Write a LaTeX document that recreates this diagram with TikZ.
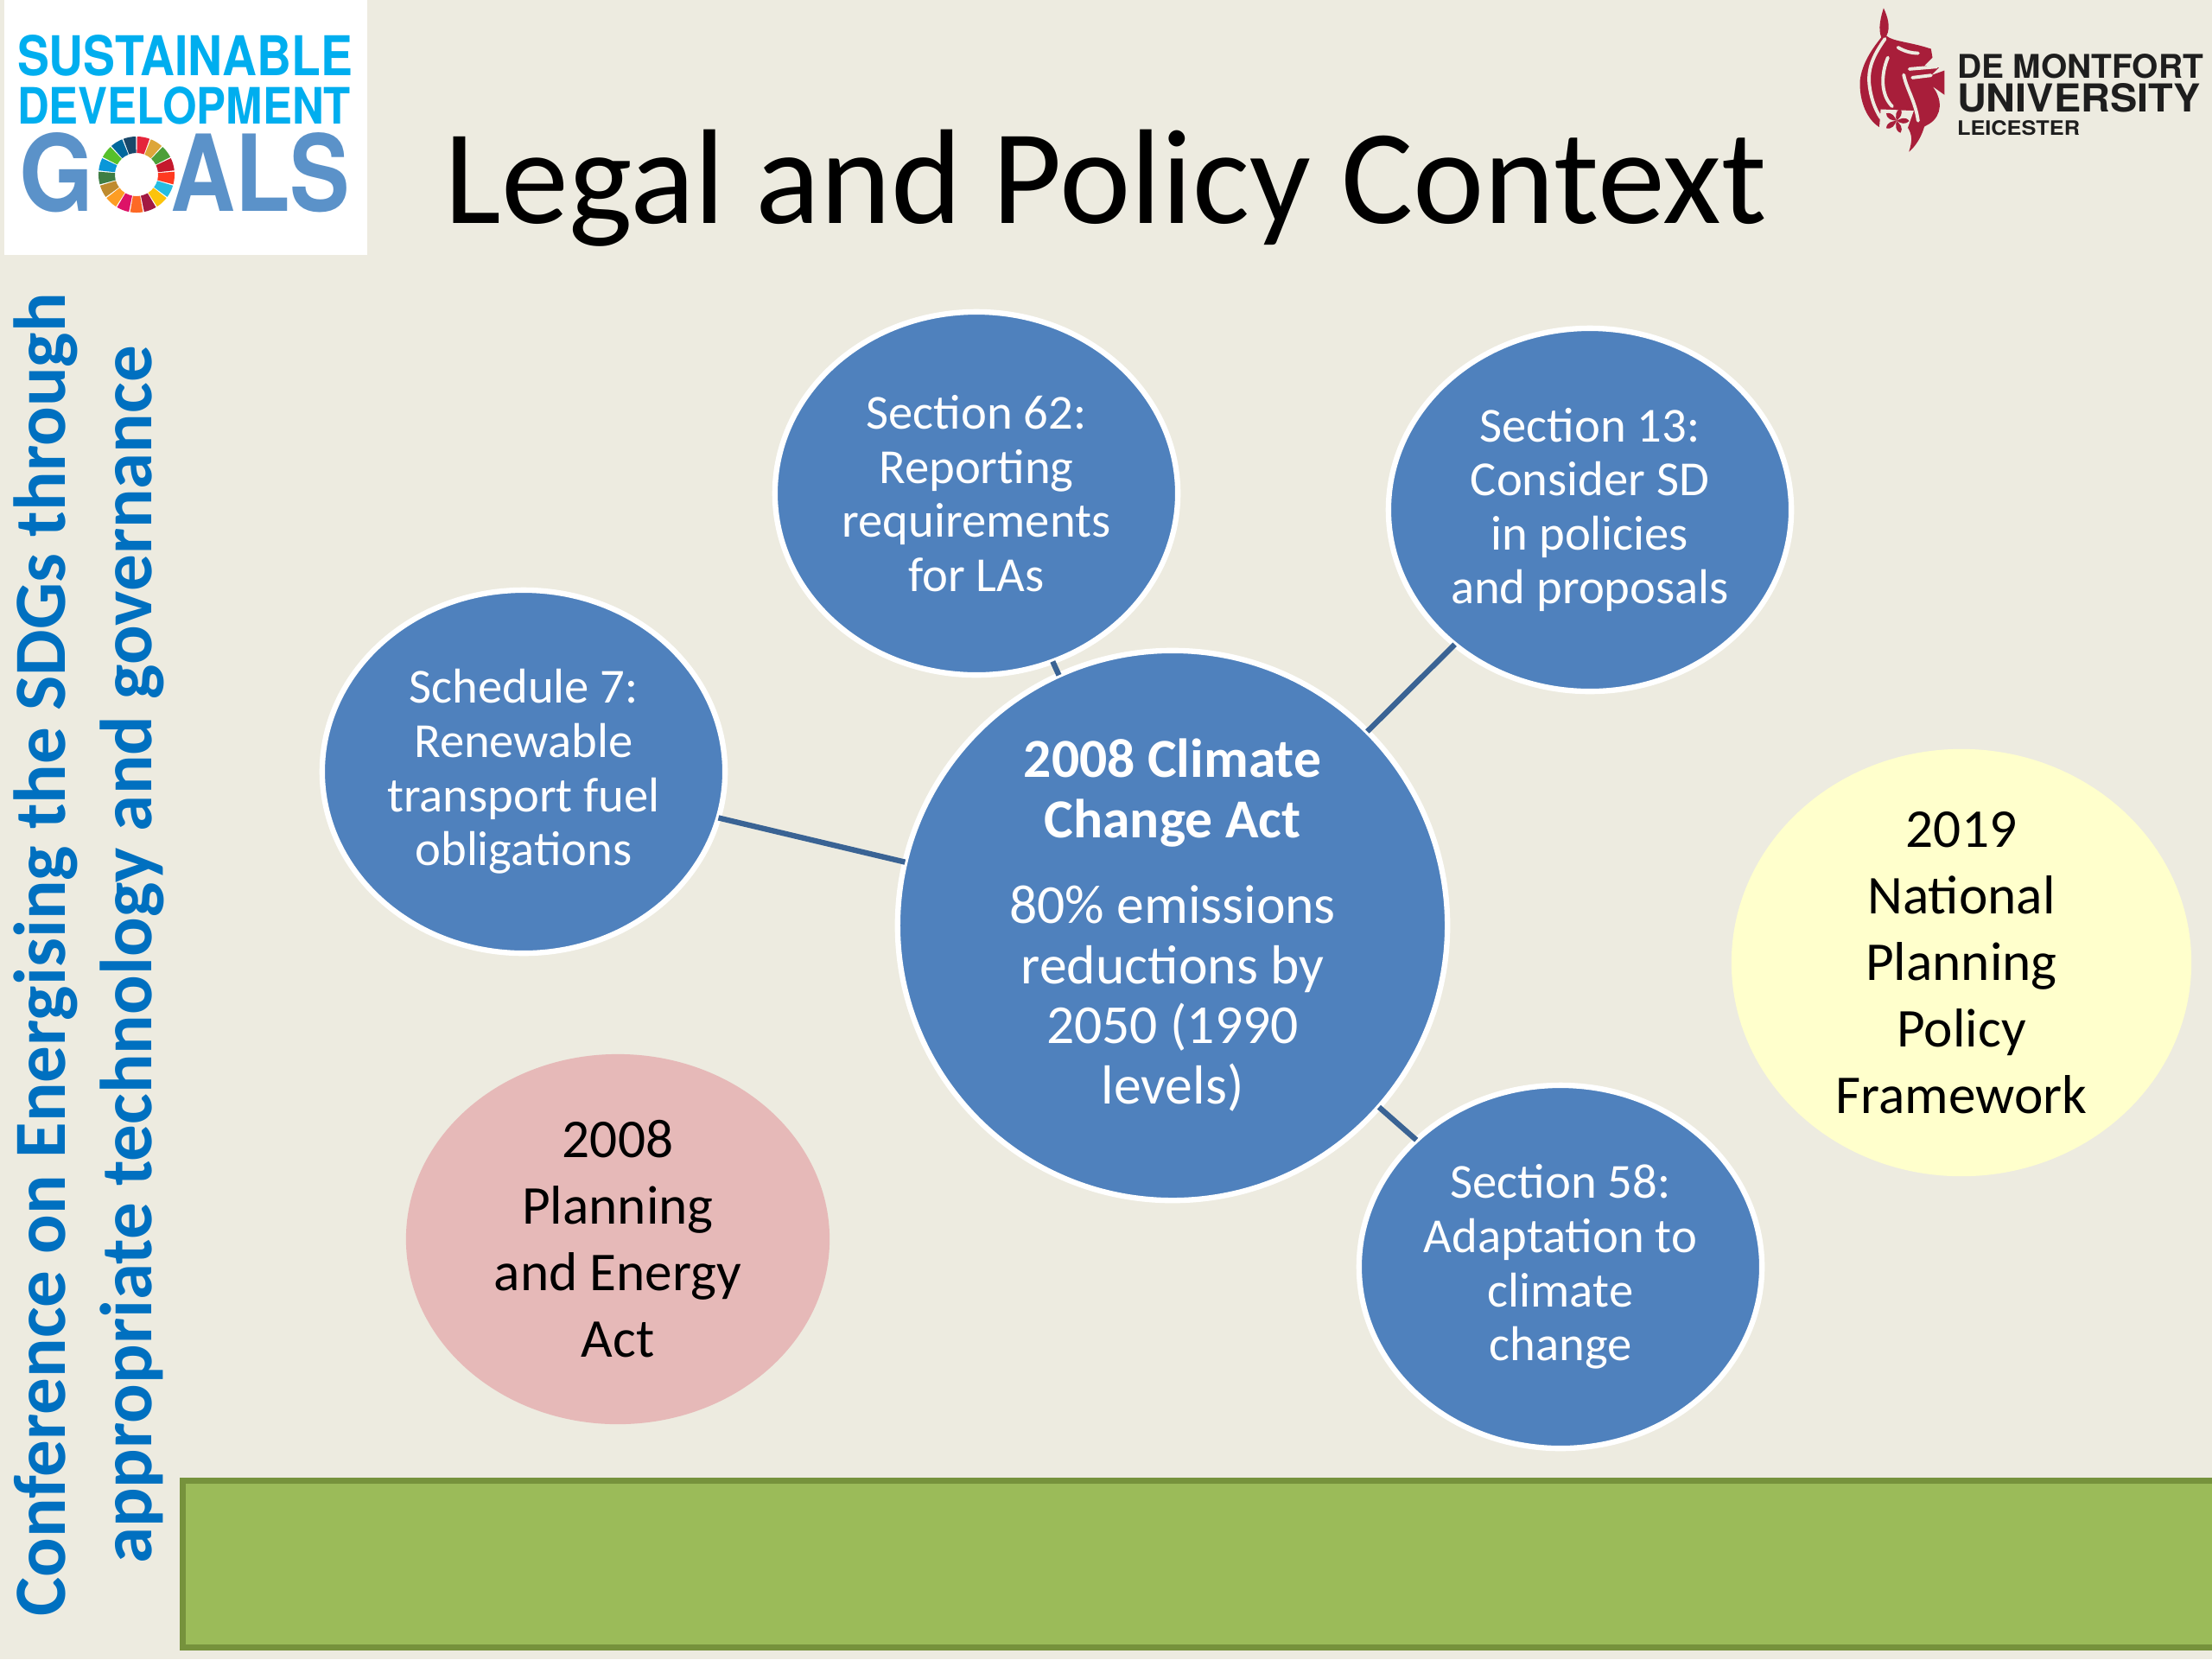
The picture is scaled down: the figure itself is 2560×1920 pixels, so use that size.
\documentclass[tikz,border=0pt]{standalone}
\usepackage{fontspec}
\usetikzlibrary{shapes.geometric}
\setmainfont{Carlito}
\newfontfamily\logofont{TeX Gyre Heros}
\definecolor{bgc}{HTML}{EDEBE0}
\definecolor{blueC}{HTML}{4F81BD}
\definecolor{linkC}{HTML}{3A6394}
\definecolor{pinkC}{HTML}{E6B9B8}
\definecolor{yelC}{HTML}{FFFFCC}
\definecolor{sideC}{HTML}{0070C0}
\definecolor{sdgA}{HTML}{00AEEF}
\definecolor{sdgB}{HTML}{5B92C9}
\definecolor{lionC}{HTML}{A81E3A}
\definecolor{dmuC}{HTML}{1E1E1E}
\definecolor{barF}{HTML}{9BBB59}
\definecolor{barD}{HTML}{76923C}
\newcommand{\fittext}[3]{\resizebox{#1\dimexpr0.01cm\relax}{#2\dimexpr0.01cm\relax}{\logofont\bfseries #3}}
\tikzset{
  bub/.style={ellipse,draw=white,line width=1.8pt,fill=blueC,text=white,inner sep=0pt,outer sep=0pt,align=center,minimum width=4.66cm,minimum height=4.2cm,font=\fontsize{16.1pt}{17.8pt}\selectfont},
  actbub/.style={bub,minimum width=6.36cm,minimum height=6.36cm,font=\fontsize{18.1pt}{19.9pt}\selectfont},
  plain/.style={ellipse,fill=#1,draw=none,text=black,inner sep=0pt,outer sep=0pt,align=center,font=\fontsize{18pt}{21.9pt}\selectfont},
  link/.style={draw=linkC,line width=1.8pt},
  logo/.style={inner sep=0pt,outer sep=0pt,anchor=south west},
  side/.style={rotate=90,anchor=base,inner sep=0pt,text=sideC,font=\fontsize{24.2pt}{28pt}\selectfont\bfseries},
  lionline/.style={bgc,line width=1.1pt,line cap=round},
}
\begin{document}
\begin{tikzpicture}[x=0.01cm,y=-0.01cm]
\useasboundingbox (0,0) rectangle (2560,1920);
\fill[bgc] (0,0) rectangle (2560,1920);
% SDG logo
\fill[white] (5,0) rectangle (425,295);
\node[logo,text=sdgA] (sdgone) at (20,88) {\fittext{388}{47}{SUSTAINABLE}};
\node[logo,text=sdgA] (sdgtwo) at (20,144) {\fittext{386}{43}{DEVELOPMENT}};
\node[logo,text=sdgB] (sdgg) at (22,246) {\fittext{86}{91}{G}};
\node[logo,text=sdgB] (sdgals) at (197,246) {\fittext{208}{91}{ALS}};
\begin{scope}[shift={(158,202)}]
\foreach \c [count=\i] in {E5243B,DDA63A,4C9F38,C5192D,FF3A21,26BDE2,FCC30B,A21942,FD6925,DD1367,FD9D24,BF8B2E,3F7E44,0A97D9,56C02B,00689D,19486A}{
  \pgfmathsetmacro{\sa}{90-(\i-1)*360/17-1}
  \pgfmathsetmacro{\ea}{\sa-360/17+2}
  \definecolor{wc}{HTML}{\c}
  \fill[wc] (\sa:0.44cm) arc[start angle=\sa,end angle=\ea,radius=0.44cm] -- (\ea:0.25cm) arc[start angle=\ea,end angle=\sa,radius=0.25cm] -- cycle;
}
\end{scope}
% DMU logo
\begin{scope}[shift={(2120,0)},x=0.00333cm,y=-0.00333cm]
\fill[lionC] (180,28) .. controls (195,60) and (205,95) .. (190,125) .. controls (215,145) and (270,145) .. (345,170) -- (350,200) -- (322,228) -- (372,235) -- (345,262) -- (392,245) -- (392,330) -- (350,300) .. controls (385,345) and (385,400) .. (340,430) -- (322,440) .. controls (310,480) and (290,510) .. (268,528) .. controls (280,490) and (280,470) .. (265,445) -- (225,465) -- (165,442) .. controls (115,410) and (95,340) .. (98,280) .. controls (105,220) and (140,170) .. (172,130) .. controls (160,100) and (170,60) .. (180,28) -- cycle;
\draw[lionline] (185,135) .. controls (150,185) and (125,230) .. (130,290) .. controls (135,340) and (150,380) .. (170,410);
\draw[lionline] (195,200) .. controls (170,260) and (170,330) .. (210,370);
\draw[lionline] (250,260) .. controls (260,310) and (290,350) .. (300,420);
\draw[lionline] (230,165) .. controls (255,180) and (280,185) .. (300,185);
\draw[lionline] (270,240) -- (365,232);
\draw[lionline] (280,270) -- (345,262);
\fill[bgc] (170,380) -- (285,385) -- (262,450) -- (225,468) -- (165,445) -- cycle;
\foreach \a in {90,162,234,306,18}{
  \fill[lionC,shift={(225,420)},rotate=\a] (0,0) .. controls (8,14) and (16,30) .. (0,44) .. controls (-16,30) and (-8,14) .. (0,0) -- cycle;
}
\end{scope}
\node[logo,text=dmuC] (dmuone) at (2265,91) {\fittext{285}{28}{DE MONTFORT}};
\node[logo,text=dmuC] (dmutwo) at (2265,130) {\fittext{282}{33}{UNIVERSITY}};
\node[logo,text=dmuC] (dmuthree) at (2265,157) {\fittext{142}{17}{LEICESTER}};
% title
\node[anchor=base,inner sep=0pt,font=\fontsize{44.4pt}{52pt}\selectfont] (title) at (1280,258) {Legal and Policy Context};
% side text
\node[side] (sidea) at (75,1105) {Conference on Energising the SDGs through};
\node[side] (sideb) at (175,1105) {appropriate technology and governance};
% green bar
\filldraw[fill=barF,draw=barD,line width=2pt] (211.5,1713.5) rectangle (2580,1906.5);
% bubbles
\node[actbub] (act) at (1357,1071) {\textbf{2008 Climate}\\\textbf{Change Act}\\[8pt]80\% emissions\\reductions by\\2050 (1990\\levels)};
\node[bub] (sixtytwo) at (1130,571) {Section 62:\\Reporting\\requirements\\for LAs};
\node[bub] (thirteen) at (1840,590) {Section 13:\\Consider SD\\in policies\\and proposals};
\node[bub] (seven) at (606,893) {Schedule 7:\\Renewable\\transport fuel\\obligations};
\node[bub] (fiftyeight) at (1806,1466) {Section 58:\\Adaptation to\\climate\\change};
\draw[link] (act) -- (sixtytwo);
\draw[link] (act) -- (thirteen);
\draw[link] (act) -- (seven);
\draw[link] (act) -- (fiftyeight);
\node[plain=pinkC,minimum width=4.9cm,minimum height=4.28cm] (planning) at (715,1434) {2008\\Planning\\and Energy\\Act};
\node[plain=yelC,minimum width=5.32cm,minimum height=4.9cm] (nppf) at (2270,1114) {2019\\National\\Planning\\Policy\\Framework};
\end{tikzpicture}
\end{document}
